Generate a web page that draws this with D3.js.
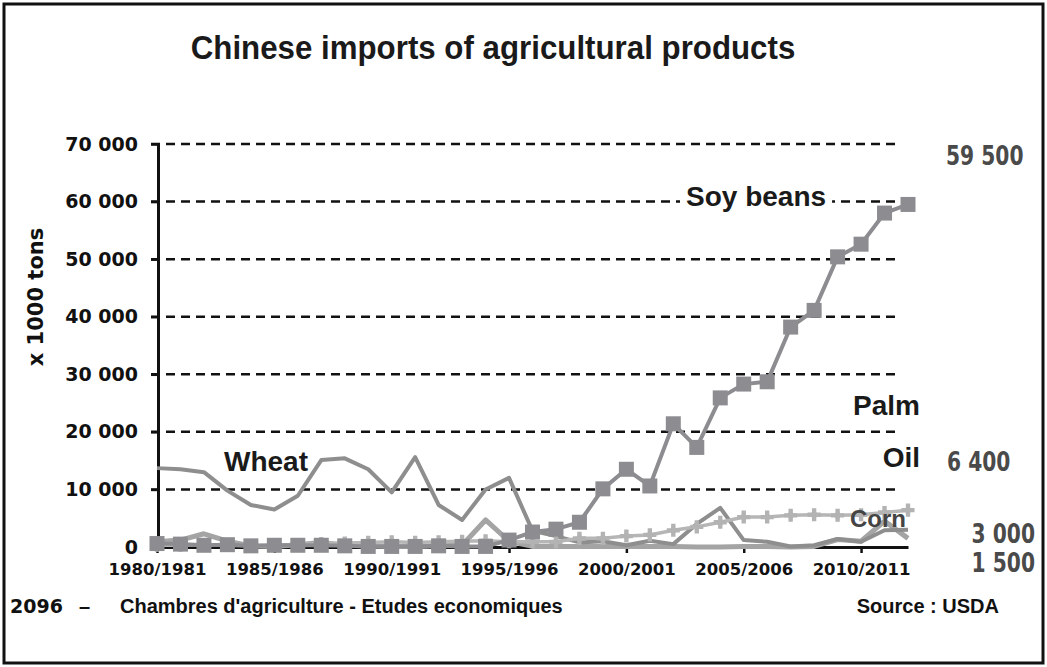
<!DOCTYPE html>
<html>
<head>
<meta charset="utf-8">
<script src="https://cdn.jsdelivr.net/npm/d3@7"></script>
<style>
  body { margin: 0; background: #fff; }
  svg { display: block; }
</style>
</head>
<body>
<svg id="chart" width="1047" height="667"></svg>
<script>
// Marketing years (July/June), x 1000 tonnes
const seasons = [
  "1980/1981","1981/1982","1982/1983","1983/1984","1984/1985",
  "1985/1986","1986/1987","1987/1988","1988/1989","1989/1990",
  "1990/1991","1991/1992","1992/1993","1993/1994","1994/1995",
  "1995/1996","1996/1997","1997/1998","1998/1999","1999/2000",
  "2000/2001","2001/2002","2002/2003","2003/2004","2004/2005",
  "2005/2006","2006/2007","2007/2008","2008/2009","2009/2010",
  "2010/2011","2011/2012","2012/2013"
];

const soyBeans = [
  600, 500, 300, 400, 200, 300, 300, 300, 200, 100,
  100, 100, 200, 100, 100, 1200, 2600, 3100, 4300, 10100,
  13500, 10600, 21400, 17300, 25900, 28300, 28700, 38200, 41100, 50400,
  52600, 58000, 59500
];

const wheat = [
  13700, 13500, 13000, 9800, 7300, 6500, 8900, 15100, 15400, 13500,
  9500, 15600, 7300, 4700, 10000, 12000, 2800, 1900, 800, 1000,
  300, 1100, 500, 4000, 6800, 1200, 900, 100, 300, 1400,
  900, 2900, 3000
];

const corn = [
  900, 1200, 2300, 1000, 200, 100, 400, 800, 300, 200,
  100, 100, 200, 300, 4700, 1000, 100, 100, 100, 100,
  100, 100, 100, 0, 0, 100, 100, 0, 100, 1300,
  1000, 4500, 1500
];

const palmOil = [
  300, 300, 400, 300, 200, 300, 400, 600, 700, 800,
  900, 800, 900, 1000, 1100, 900, 900, 900, 1500, 1500,
  1900, 2100, 2900, 3500, 4300, 5200, 5200, 5500, 5600, 5500,
  5600, 6000, 6400
];

const yTicks = [0, 10000, 20000, 30000, 40000, 50000, 60000, 70000];
const xTickLabels = ["1980/1981","1985/1986","1990/1991","1995/1996","2000/2001","2005/2006","2010/2011"];

const seriesLabels = ["Soy beans", "Wheat", "Palm", "Oil", "Corn"];

const frFormat = d3.formatLocale({ decimal: ",", thousands: " ", grouping: [3], currency: ["", ""] }).format(",");

const svg = d3.select("#chart");

const x = d3.scalePoint().domain(seasons).range([157, 908]);
const y = d3.scaleLinear().domain([0, 70000]).range([547, 144]);

const blockFont = "'DejaVu Sans', sans-serif";
const textFont = "'Liberation Sans', Arial, sans-serif";

// outer frame
svg.append("rect")
  .attr("x", 4).attr("y", 4).attr("width", 1039).attr("height", 659)
  .attr("fill", "none").attr("stroke", "#111").attr("stroke-width", 3);

// title (slightly condensed bold face)
svg.append("text")
  .attr("transform", "translate(493,59) scale(0.92,1)")
  .attr("text-anchor", "middle")
  .attr("font-family", textFont).attr("font-weight", "bold")
  .attr("font-size", 34).attr("fill", "#1a1a1a")
  .text("Chinese imports of agricultural products");

// dashed gridlines
svg.append("g").selectAll("line")
  .data(yTicks.filter(d => d > 0))
  .join("line")
  .attr("x1", 151).attr("x2", 900)
  .attr("y1", d => y(d)).attr("y2", d => y(d))
  .attr("stroke", "#111").attr("stroke-width", 2.5)
  .attr("stroke-dasharray", "9 6");

// y axis
const yAxis = svg.append("g")
  .attr("transform", "translate(158,0)")
  .call(d3.axisLeft(y).tickValues(yTicks).tickFormat(frFormat).tickSize(7).tickSizeOuter(0).tickPadding(13));
yAxis.select(".domain").attr("stroke", "#111").attr("stroke-width", 3);
yAxis.selectAll(".tick line").attr("stroke", "#111").attr("stroke-width", 2.5);
yAxis.selectAll(".tick text")
  .attr("font-family", blockFont).attr("font-weight", "bold")
  .attr("font-size", 19).attr("fill", "#111");

// y axis title
svg.append("text")
  .attr("transform", "translate(43,297) rotate(-90)")
  .attr("text-anchor", "middle")
  .attr("font-family", blockFont).attr("font-weight", "bold")
  .attr("font-size", 21).attr("fill", "#111")
  .text("x 1000 tons");

// x axis
const xAxis = svg.append("g")
  .attr("transform", "translate(0,547)")
  .call(d3.axisBottom(x).tickValues(xTickLabels).tickSize(6).tickSizeOuter(0));
xAxis.select(".domain").attr("stroke", "#111").attr("stroke-width", 3);
xAxis.selectAll(".tick line").attr("stroke", "#111").attr("stroke-width", 2.5);
xAxis.selectAll(".tick text")
  .attr("y", 16)
  .attr("font-family", blockFont).attr("font-weight", "bold")
  .attr("font-size", 16.5).attr("fill", "#111");

const line = d3.line().x((d, i) => x(seasons[i])).y(d => y(d));

// corn
svg.append("path").datum(corn)
  .attr("d", line).attr("fill", "none")
  .attr("stroke", "#a4a4a4").attr("stroke-width", 5).attr("stroke-linejoin", "round");

// wheat
svg.append("path").datum(wheat)
  .attr("d", line).attr("fill", "none")
  .attr("stroke", "#8e8e8e").attr("stroke-width", 4).attr("stroke-linejoin", "round");

// palm oil
svg.append("path").datum(palmOil)
  .attr("d", line).attr("fill", "none")
  .attr("stroke", "#b6b6b6").attr("stroke-width", 3.5);
const palmMarks = svg.append("g").selectAll("g")
  .data(palmOil)
  .join("g")
  .attr("transform", (d, i) => `translate(${x(seasons[i])},${y(d)})`)
  .attr("fill", "#b3b3b3");
palmMarks.append("path").attr("d", d3.symbol(d3.symbolCross, 95)());
palmMarks.append("path").attr("d", d3.symbol(d3.symbolDiamond, 45)());

// soy beans
svg.append("path").datum(soyBeans)
  .attr("d", line).attr("fill", "none")
  .attr("stroke", "#8d8d91").attr("stroke-width", 4);
svg.append("g").selectAll("rect")
  .data(soyBeans)
  .join("rect")
  .attr("x", (d, i) => x(seasons[i]) - 7.5)
  .attr("y", d => y(d) - 7.5)
  .attr("width", 15).attr("height", 15)
  .attr("fill", "#8d8d91");

// series names
const nameStyle = sel => sel
  .attr("font-family", textFont).attr("font-weight", "bold")
  .attr("font-size", 28).attr("fill", "#1a1a1a");

// "Soy beans" sits on a white patch that interrupts the gridline
const soyLabel = svg.append("g");
const soyBg = soyLabel.append("rect").attr("fill", "#fff");
const soyText = soyLabel.append("text").attr("x", 686).attr("y", 206).text(seriesLabels[0]).call(nameStyle);
const sb = soyText.node().getBBox();
soyBg.attr("x", sb.x - 6).attr("y", sb.y).attr("width", sb.width + 12).attr("height", sb.height);

svg.append("text").attr("x", 224).attr("y", 471).text(seriesLabels[1]).call(nameStyle);
svg.append("text").attr("x", 920).attr("y", 415).attr("text-anchor", "end").text(seriesLabels[2]).call(nameStyle);
svg.append("text").attr("x", 920).attr("y", 467).attr("text-anchor", "end").text(seriesLabels[3]).call(nameStyle);
svg.append("text").attr("x", 850).attr("y", 527).text(seriesLabels[4])
  .attr("font-family", textFont).attr("font-weight", "bold")
  .attr("font-size", 24).attr("fill", "#444");

// last-season values
const lastIdx = seasons.length - 1;
const endValues = [
  { v: soyBeans[lastIdx], x: 946, y: 165, anchor: "start" },
  { v: palmOil[lastIdx], x: 947, y: 471, anchor: "start" },
  { v: wheat[lastIdx], x: 1035, y: 543, anchor: "end" },
  { v: corn[lastIdx], x: 1035, y: 572, anchor: "end" }
];
svg.append("g").selectAll("text")
  .data(endValues)
  .join("text")
  .attr("transform", d => `translate(${d.x},${d.y}) scale(0.75,1)`)
  .attr("text-anchor", d => d.anchor)
  .attr("font-family", blockFont).attr("font-weight", "bold")
  .attr("font-size", 27).attr("fill", "#4a4a4a")
  .text(d => frFormat(d.v));

// footer
svg.append("text")
  .attr("x", 10).attr("y", 613)
  .attr("font-family", blockFont).attr("font-weight", "bold")
  .attr("font-size", 19).attr("fill", "#111")
  .text("2096");
svg.append("text")
  .attr("x", 79).attr("y", 613)
  .attr("font-family", textFont).attr("font-weight", "bold")
  .attr("font-size", 20).attr("fill", "#111")
  .text("–");
svg.append("text")
  .attr("x", 120).attr("y", 613)
  .attr("font-family", textFont).attr("font-weight", "bold")
  .attr("font-size", 20).attr("fill", "#111")
  .text("Chambres d'agriculture - Etudes economiques");
svg.append("text")
  .attr("x", 999).attr("y", 613)
  .attr("text-anchor", "end")
  .attr("font-family", textFont).attr("font-weight", "bold")
  .attr("font-size", 20).attr("fill", "#111")
  .text("Source : USDA");
</script>
</body>
</html>
